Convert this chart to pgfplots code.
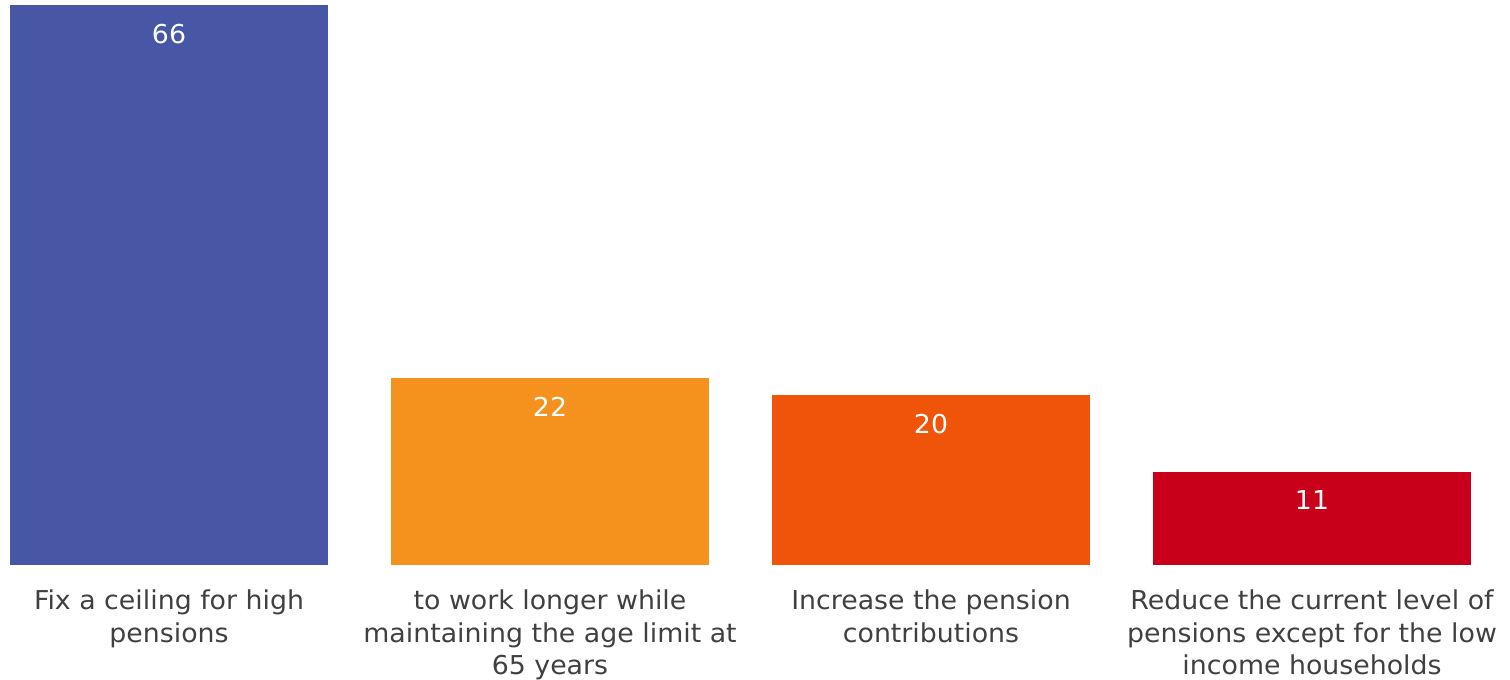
\documentclass[border=0pt]{standalone}
\usepackage{pgfplots}
\pgfplotsset{compat=1.18}
\usepackage{fontspec}
\setmainfont{DejaVu Sans}[FakeStretch=1.03]
\definecolor{c1}{HTML}{4757A6}
\definecolor{c2}{HTML}{F5921E}
\definecolor{c3}{HTML}{F0530A}
\definecolor{c4}{HTML}{C8001A}
\definecolor{txt}{HTML}{404040}
\begin{document}
\begin{tikzpicture}
\begin{axis}[
  scale only axis,
  width=755pt, height=282.5pt,
  xmin=-0.4436, xmax=3.5197,
  ymin=0, ymax=66.59,
  axis x line=bottom,
  hide y axis,
  axis line style={draw=none},
  major tick length=0pt,
  ybar, bar width=159pt, bar shift=0pt,
  xtick={0,1,2,3},
  xticklabels={{Fix a ceiling for high\\pensions}, {to work longer while\\maintaining the age limit at\\65 years}, {Increase the pension\\contributions}, {Reduce the current level of\\pensions except for the low\\income households}},
  xticklabel style={align=center, font=\fontsize{13}{16.25}\selectfont, text=txt, anchor=north, yshift=-9pt},
  /pgf/number format/assume math mode=true,
  nodes near coords,
  every node near coord/.append style={anchor=north, yshift=-6pt, text=white, font=\fontsize{13}{16}\selectfont},
  clip=false,
]
\addplot[fill=c1, draw=none] coordinates {(0,66)};
\addplot[fill=c2, draw=none] coordinates {(1,22)};
\addplot[fill=c3, draw=none] coordinates {(2,20)};
\addplot[fill=c4, draw=none] coordinates {(3,11)};
\end{axis}
\pgfresetboundingbox
\path[use as bounding box] (current axis.north west) rectangle ([xshift=755pt,yshift=-340pt]current axis.north west);
\end{tikzpicture}
\end{document}
